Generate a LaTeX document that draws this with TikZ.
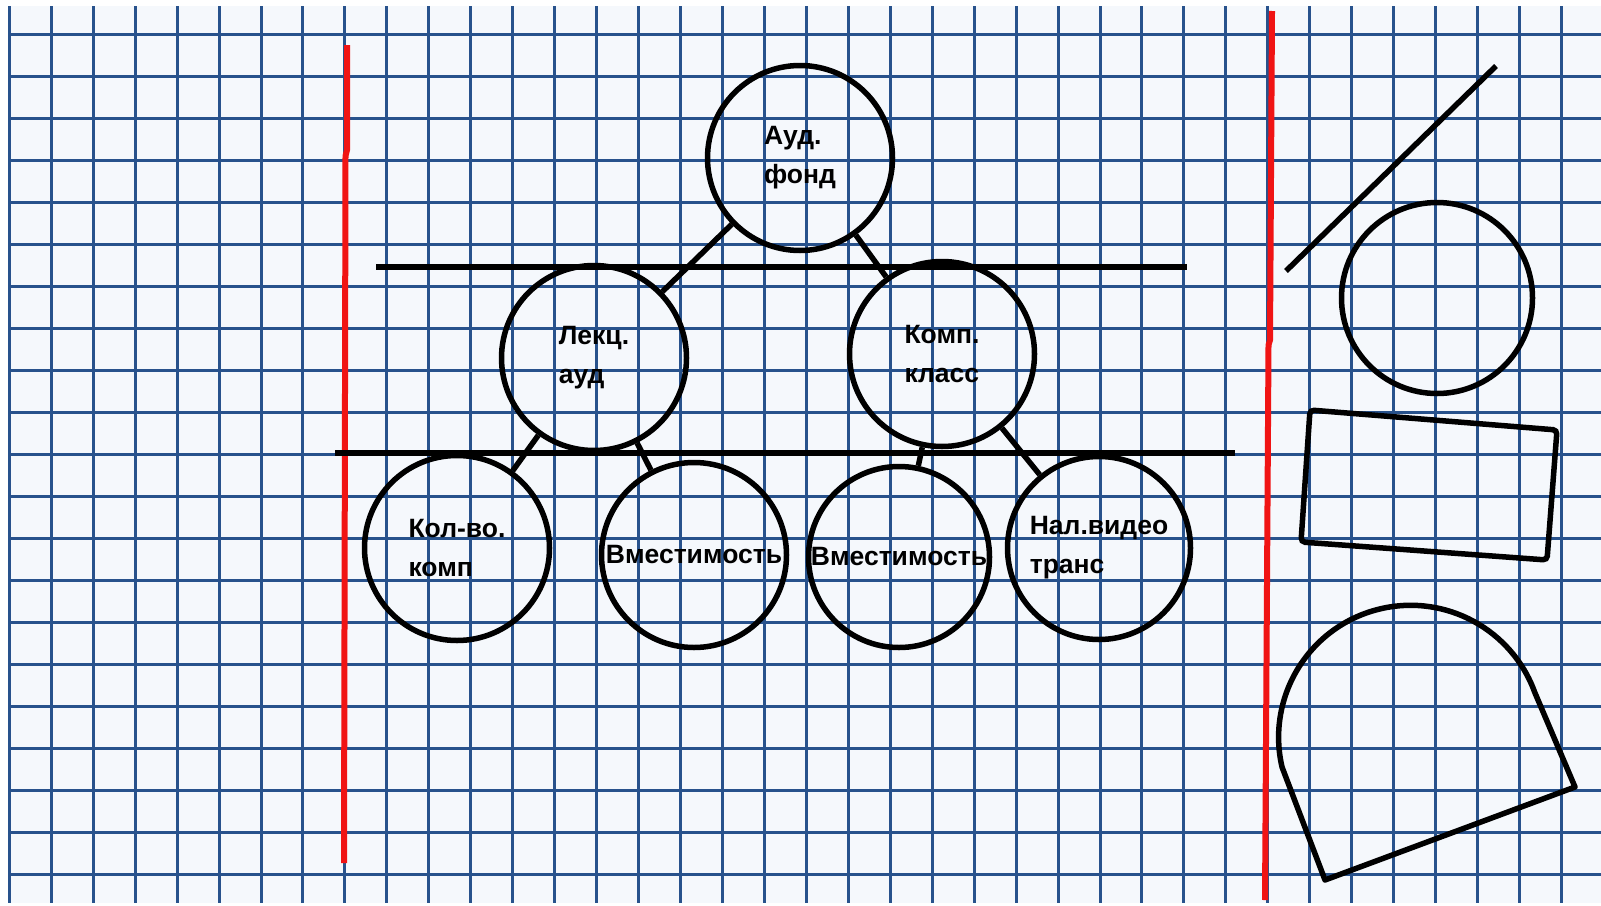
\documentclass[tikz,border=0pt]{standalone}
\usepackage{fontspec}
\setmainfont{Liberation Sans}
\definecolor{paper}{RGB}{245,248,252}
\definecolor{gridblue}{RGB}{40,82,140}
\definecolor{marginred}{RGB}{240,20,20}
\tikzset{
  bubble/.style={draw, circle, line width=5.5pt, minimum size=185pt, inner sep=0pt,
    align=left, font=\fontsize{26.5}{39}\selectfont\bfseries},
  stroke/.style={line width=5.5pt},
  gridline/.style={gridblue, line width=3pt},
  margin/.style={marginred, line width=6pt}
}
\begin{document}
\begin{tikzpicture}[x=1pt,y=-1pt]
  \useasboundingbox (0,0) rectangle (1601,905);
  % squared paper
  \fill[paper] (9,6) rectangle (1601,903);
  \foreach \i in {0,...,37}
    \draw[gridline] ({9.3+41.95*\i},6) -- ({9.3+41.95*\i},903);
  \foreach \j in {0,...,20}
    \draw[gridline] (9,{34+42*\j}) -- (1601,{34+42*\j});
  % red margins
  \draw[margin] (347,45) -- (347,150) -- (345.5,156) -- (344,863);
  \draw[margin] (1272,11) -- (1270,340) -- (1268.5,345) -- (1265,900);
  % tree
  \node[bubble] (fund) at (800,158) {Ауд.\\фонд};
  \node[bubble] (lect) at (594,358) {Лекц.\\ауд};
  \node[bubble] (comp) at (942,354) {Комп.\\класс};
  \node[bubble] (pcs) at (457,548) {Кол-во.\\комп};
  \node[bubble] (cap1) at (694,555) {Вместимость};
  \node[bubble, minimum size=181pt] (cap2) at (899,557) {Вместимость};
  \node[bubble, minimum size=183pt] (video) at (1099,548) {Нал.видео\\транс};
  \draw[stroke] (fund) -- (lect);
  \draw[stroke] (fund) -- (comp);
  \draw[stroke] (lect) -- (pcs);
  \draw[stroke] (lect) -- (cap1);
  \draw[stroke] (comp) -- (cap2);
  \draw[stroke] (comp) -- (video);
  % levels
  \draw[stroke] (376,267) -- (1187,267);
  \draw[stroke] (335,453) -- (1235,453);
  % shapes on the right
  \draw[stroke] (1286,271) -- (1496,66);
  \draw[stroke] (1437,298) circle[radius=95.5];
  \draw[stroke, rounded corners=4pt] (1310,410) -- (1557,430) -- (1547,560) -- (1301,542) -- cycle;
  \draw[stroke, line join=round] (1282,767) arc[start angle=167, end angle=340, radius=132]
    -- (1575,787) -- (1325,880) -- cycle;
\end{tikzpicture}
\end{document}
